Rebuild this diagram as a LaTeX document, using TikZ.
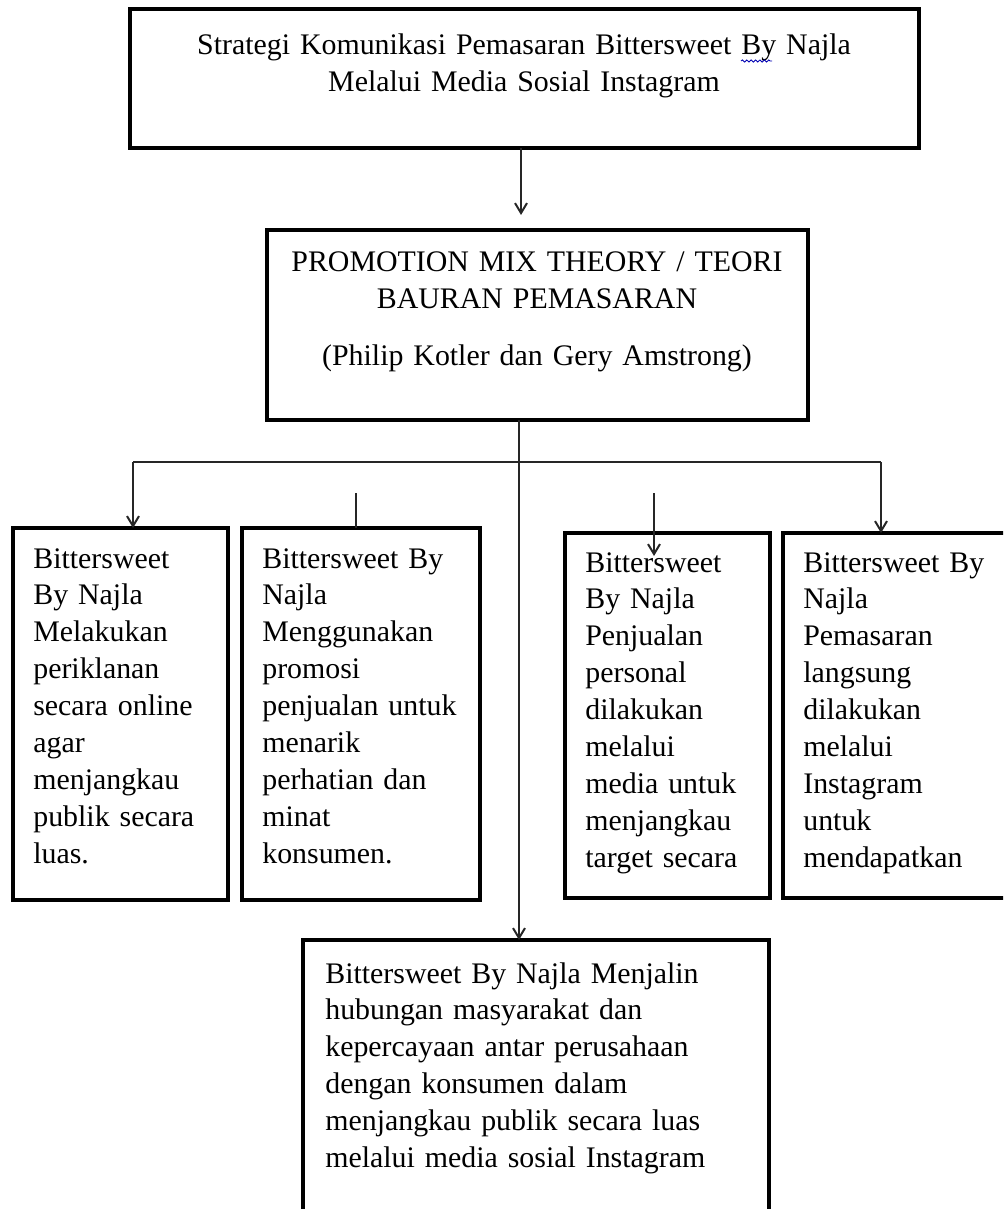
\documentclass[tikz,border=0pt]{standalone}
\usepackage{fontspec}
\setmainfont{Liberation Serif}
\usetikzlibrary{arrows.meta,decorations.pathmorphing,positioning,calc}

\begin{document}
\begin{tikzpicture}
[x=0.02cm,y=-0.02cm,
font=\fontsize{17pt}{21pt}\selectfont,
frame/.style={rectangle,draw=black,line width=0.09cm,outer sep=0pt,inner sep=0pt,anchor=north west},
words/.style={inner sep=0pt,align=left,anchor=base west},
heading/.style={inner sep=0pt,align=center,anchor=base},
link/.style={draw=black!85,line width=0.04cm},
arrow/.style={link,-{Straight Barb[length=0.2cm,width=0.24cm]}}]
\path[use as bounding box] (0,0) rectangle (1003,1209);
\clip (0,0) rectangle (1003,1209);

% boxes
\node[frame,minimum width=15.78cm,minimum height=2.78cm] (strategi) at (130,9) {};
\node[frame,minimum width=10.82cm,minimum height=3.8cm] (teori) at (267,230) {};
\node[frame,minimum width=4.3cm,minimum height=7.44cm] (iklan) at (13,528) {};
\node[frame,minimum width=4.76cm,minimum height=7.44cm] (promosi) at (242,528) {};
\node[frame,minimum width=4.1cm,minimum height=7.3cm] (personal) at (565,533) {};
\node[frame,minimum width=4.9cm,minimum height=7.3cm] (langsung) at (783,533) {};
\node[frame,minimum width=9.32cm,minimum height=6.4cm] (humas) at (303,940) {};

% texts
\node[heading,text width=15cm] (strategi text) at (524,55)
  {Strategi Komunikasi Pemasaran Bittersweet By Najla\\Melalui Media Sosial Instagram};
\draw[blue!70!black,line width=0.5pt,decorate,decoration={snake,amplitude=0.6pt,segment length=2.5pt}]
  (741,61) -- (772,61);
\node[heading,text width=10.4cm] (teori text) at (537,272)
  {PROMOTION MIX THEORY / TEORI\\BAURAN PEMASARAN\\[0.4cm](Philip Kotler dan Gery Amstrong)};
\node[words,text width=3.9cm] (iklan text) at (33,568)
  {Bittersweet\\By Najla\\Melakukan\\periklanan\\secara online\\agar\\menjangkau\\publik secara\\luas.};
\node[words,text width=4.3cm] (promosi text) at (262,568)
  {Bittersweet By\\Najla\\Menggunakan\\promosi\\penjualan untuk\\menarik\\perhatian dan\\minat\\konsumen.};
\node[words,text width=3.7cm] (personal text) at (585,572)
  {Bittersweet\\By Najla\\Penjualan\\personal\\dilakukan\\melalui\\media untuk\\menjangkau\\target secara};
\node[words,text width=4.2cm] (langsung text) at (803,572)
  {Bittersweet By\\Najla\\Pemasaran\\langsung\\dilakukan\\melalui\\Instagram\\untuk\\mendapatkan};
\node[words,text width=8.8cm] (humas text) at (325,983)
  {Bittersweet By Najla Menjalin\\hubungan masyarakat dan\\kepercayaan antar perusahaan\\dengan konsumen dalam\\menjangkau publik secara luas\\melalui media sosial Instagram};

% connectors
\coordinate (hub) at (519,462);
\coordinate (left end) at (133,462);
\coordinate (right end) at (881,462);
\coordinate (stub2) at (356,493);
\coordinate (stub3) at (654,493);
\coordinate (tip3) at (654,556);
\draw[arrow,shorten >=0.3cm] (strategi.south -| 521,0) -- (521,0 |- teori.north);
\draw[arrow] (teori.south -| hub) -- (hub |- humas.north);
\draw[link] (left end) -- (right end);
\draw[arrow] (left end) -- (left end |- iklan.north);
\draw[arrow] (right end) -- (right end |- langsung.north);
\draw[link] (stub2) -- (stub2 |- promosi.north);
\draw[arrow] (stub3) -- (tip3);
\end{tikzpicture}
\end{document}
